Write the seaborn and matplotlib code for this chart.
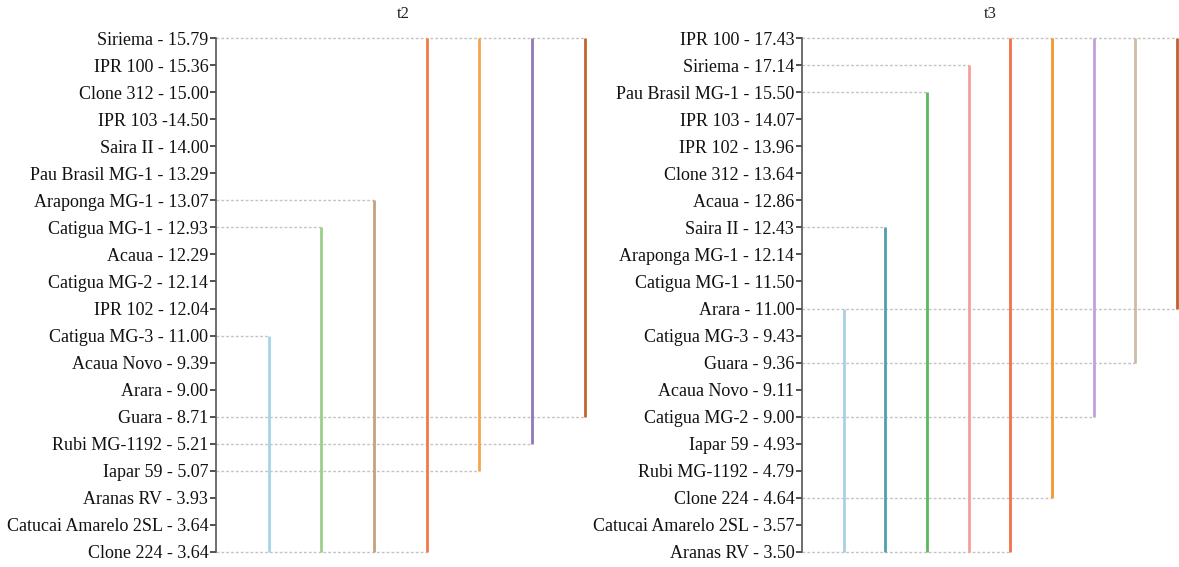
import matplotlib
matplotlib.use("Agg")
import matplotlib.pyplot as plt
import seaborn as sns

# ---- data ----
t2_labels = ["Siriema - 15.79", "IPR 100 - 15.36", "Clone 312 - 15.00", "IPR 103 -14.50",
             "Saira II - 14.00", "Pau Brasil MG-1 - 13.29", "Araponga MG-1 - 13.07",
             "Catigua MG-1 - 12.93", "Acaua - 12.29", "Catigua MG-2 - 12.14", "IPR 102 - 12.04",
             "Catigua MG-3 - 11.00", "Acaua Novo - 9.39", "Arara - 9.00", "Guara - 8.71",
             "Rubi MG-1192 - 5.21", "Iapar 59 - 5.07", "Aranas RV - 3.93",
             "Catucai Amarelo 2SL - 3.64", "Clone 224 - 3.64"]
# groups: (first member label index, last member label index)
t2_group_start = [11, 7, 6, 0, 0, 0, 0]
t2_group_end = [19, 19, 19, 19, 16, 15, 14]
t2_colors = ["#a6d4e6", "#9ccf8a", "#c4a27f", "#f07a4a", "#f5a552", "#9378b8", "#c0652e"]

t3_labels = ["IPR 100 - 17.43", "Siriema - 17.14", "Pau Brasil MG-1 - 15.50", "IPR 103 - 14.07",
             "IPR 102 - 13.96", "Clone 312 - 13.64", "Acaua - 12.86", "Saira II - 12.43",
             "Araponga MG-1 - 12.14", "Catigua MG-1 - 11.50", "Arara - 11.00",
             "Catigua MG-3 - 9.43", "Guara - 9.36", "Acaua Novo - 9.11", "Catigua MG-2 - 9.00",
             "Iapar 59 - 4.93", "Rubi MG-1192 - 4.79", "Clone 224 - 4.64",
             "Catucai Amarelo 2SL - 3.57", "Aranas RV - 3.50"]
t3_group_start = [10, 7, 2, 1, 0, 0, 0, 0, 0]
t3_group_end = [19, 19, 19, 19, 19, 17, 14, 12, 10]
t3_colors = ["#a9cfe3", "#4f9fb0", "#5cb85c", "#f4a09a", "#f0724a", "#f4962e",
             "#c4a0d8", "#cdbca6", "#c0602a"]

sns.set_theme(style="white")
plt.rcParams["font.family"] = ["Liberation Serif", "DejaVu Serif"]

fig = plt.figure(figsize=(11.79, 5.67), dpi=100)
W, H = 1179, 567
ax_specs = [
    (216, 590, 7.1, "t2", t2_labels, t2_group_start, t2_group_end, t2_colors),
    (802, 1179, 9.05, "t3", t3_labels, t3_group_start, t3_group_end, t3_colors),
]
top_px, bot_px = 30, 560
for (x0, x1, xmax, title, labels, gs, ge, cols) in ax_specs:
    ax = fig.add_axes([x0 / W, (H - bot_px) / H, (x1 - x0) / W, (bot_px - top_px) / H])
    n = len(labels)
    ax.set_ylim(n - 1 + 0.3, -0.3)
    ax.set_xlim(0, xmax)
    # dotted guide lines at the ends of each group
    ends = {}
    for i, (s, e) in enumerate(zip(gs, ge)):
        xpos = i + 1
        ends[s] = max(ends.get(s, 0), xpos)
        ends[e] = max(ends.get(e, 0), xpos)
    for row, xe in ends.items():
        ax.hlines(row, 0, xe, colors="#c4c4c4", linestyles=(0, (2, 1.5)), lw=1, zorder=1)
    for i, (s, e, c) in enumerate(zip(gs, ge, cols)):
        ax.vlines(i + 1, s, e, colors=c, lw=2, zorder=2)
    ax.set_yticks(range(n))
    ax.set_yticklabels(labels, fontsize=13, color="#111111")
    ax.set_xticks([])
    ax.tick_params(axis="y", direction="out", length=4, width=1.2, color="#333333",
                   pad=1.5, left=True)
    for sp in ["top", "right", "bottom"]:
        ax.spines[sp].set_visible(False)
    ax.spines["left"].set_bounds(0, n - 1)
    ax.spines["left"].set_color("#555555")
    ax.spines["left"].set_linewidth(1.2)
    ax.set_title(title, fontsize=12, pad=9, color="#222222")
    ax.patch.set_alpha(0)

fig.savefig("out.png", dpi=100, facecolor="white")
